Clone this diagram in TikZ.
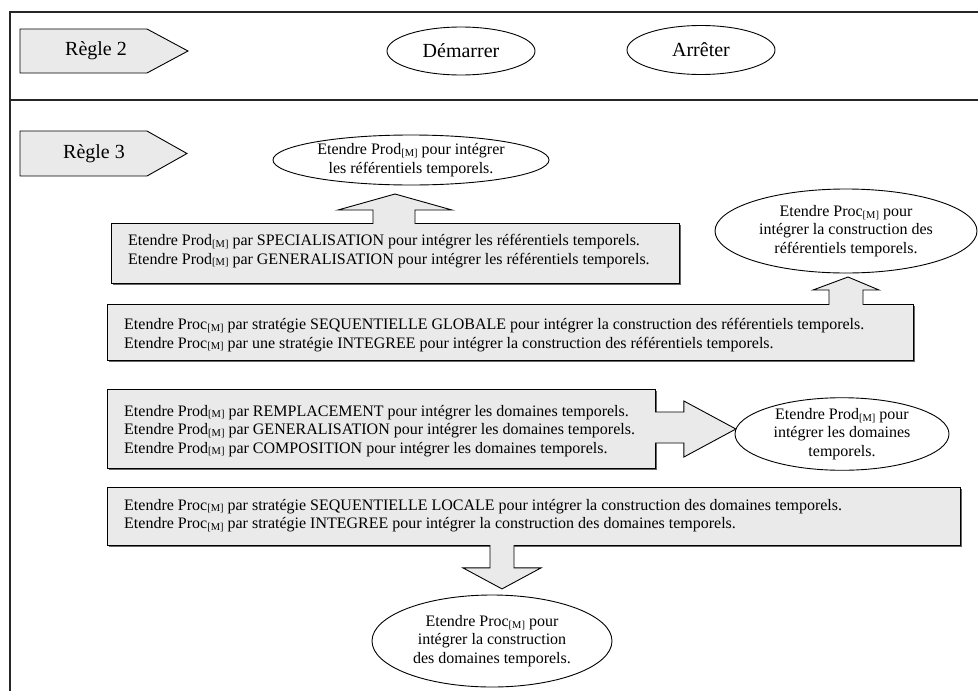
\documentclass[tikz,border=0pt]{standalone}
\usepackage{fontspec}
\setmainfont{Liberation Serif}
\usetikzlibrary{shapes.geometric,shadows,calc}
\definecolor{boxgray}{RGB}{234,234,234}
\newcommand{\Msub}{\raisebox{-1.6pt}{\fontsize{10.5}{10.5}\selectfont[M]}}
\begin{document}
\begin{tikzpicture}[x=1pt,y=-1pt,
  frameline/.style={line width=1.4pt, black!85},
  pent/.style={draw=black, line width=0.9pt, fill=boxgray},
  bigtext/.style={font=\fontsize{20}{24}\selectfont, inner sep=0},
  bigfont/.style={font=\fontsize{20}{24}\selectfont},
  boxshape/.style={draw=black, line width=0.9pt, fill=boxgray, anchor=north west, inner sep=0,
     drop shadow={shadow xshift=1.5pt, shadow yshift=-1.5pt, fill=black, opacity=0.6}},
  boxtext/.style={anchor=west, align=left, inner sep=0, font=\fontsize{16}{18.4}\selectfont},
  oval/.style={ellipse, draw=black, line width=0.9pt, fill=white, inner sep=0, align=center,
     font=\fontsize{16}{18.4}\selectfont},
  blockarrow/.style={draw=black, line width=0.9pt, fill=boxgray, line join=miter}
]
\useasboundingbox (0,0) rectangle (978,691);
% frame
\draw[frameline] (978,12) -- (10,12) -- (10,691);
\draw[frameline] (10,100) -- (978,100);

% Regle 2 lane
\draw[pent] (20,29) -- (147,29) -- (188,51) -- (147,73) -- (20,73) -- cycle;
\node[bigtext] (r2) at (96,51) {Règle 2};
\node[oval, bigfont, minimum width=148pt, minimum height=48pt] (start) at (461,51) {Démarrer};
\node[oval, bigfont, minimum width=148pt, minimum height=49pt] (stop) at (701,50) {Arrêter};

% Regle 3 lane
\draw[pent] (20,131) -- (147,131) -- (187,153.5) -- (147,176) -- (20,176) -- cycle;
\node[bigtext] (r3) at (94,153.5) {Règle 3};

% ellipse 1
\node[oval, minimum width=276pt, minimum height=50pt] (e1) at (411,160)
  {Etendre Prod\Msub{} pour intégrer\\les référentiels temporels.};

% box 1
\node[boxshape, minimum width=568pt, minimum height=60pt] (b1) at (111,223) {};
\node[boxtext] (t1) at ($(b1.west)+(17,-2.5)$)
  {Etendre Prod\Msub{} par SPECIALISATION pour intégrer les référentiels temporels.\\
   Etendre Prod\Msub{} par GENERALISATION pour intégrer les référentiels temporels.};
\draw[blockarrow] ($(b1.north west)+(262,0.8)$) -- ++(0,-13.8) -- ++(-35,0) -- ++(57,-16)
  -- ++(57,16) -- ++(-37,0) -- ++(0,13.8);

% ellipse 2
\node[oval, minimum width=262pt, minimum height=84pt] (e2) at (846,231)
  {Etendre Proc\Msub{} pour\\intégrer la construction des\\référentiels temporels.};

% box 2
\node[boxshape, minimum width=806pt, minimum height=56pt] (b2) at (107,304) {};
\node[boxtext] (t2) at ($(b2.west)+(17,2.5)$)
  {Etendre Proc\Msub{} par stratégie SEQUENTIELLE GLOBALE pour intégrer la construction des référentiels temporels.\\
   Etendre Proc\Msub{} par une stratégie INTEGREE pour intégrer la construction des référentiels temporels.};
\draw[blockarrow] ($(b2.north west)+(722,0.8)$) -- ++(0,-14.8) -- ++(-16,0) -- ++(35,-13)
  -- ++(31,13) -- ++(-16,0) -- ++(0,14.8);

% box 3
\node[boxshape, minimum width=548pt, minimum height=79pt] (b3) at (107,389) {};
\node[boxtext] (t3) at ($(b3.west)+(17,2)$)
  {Etendre Prod\Msub{} par REMPLACEMENT pour intégrer les domaines temporels.\\
   Etendre Prod\Msub{} par GENERALISATION pour intégrer les domaines temporels.\\
   Etendre Prod\Msub{} par COMPOSITION pour intégrer les domaines temporels.};
\draw[blockarrow] ($(b3.north east)+(-0.8,23)$) -- ++(28.8,0) -- ++(0,-11) -- ++(52,28)
  -- ++(-52,28) -- ++(0,-14) -- ++(-28.8,0);

% ellipse 3
\node[oval, minimum width=214pt, minimum height=72pt] (e3) at (842,434)
  {Etendre Prod\Msub{} pour\\intégrer les domaines\\temporels.};

% box 4
\node[boxshape, minimum width=853pt, minimum height=58pt] (b4) at (107,487) {};
\node[boxtext] (t4) at ($(b4.west)+(17,-1)$)
  {Etendre Proc\Msub{} par stratégie SEQUENTIELLE LOCALE pour intégrer la construction des domaines temporels.\\
   Etendre Proc\Msub{} par stratégie INTEGREE pour intégrer la construction des domaines temporels.};
\draw[blockarrow] ($(b4.south west)+(383,-0.8)$) -- ++(0,22.8) -- ++(-27,0) -- ++(39,21)
  -- ++(39,-21) -- ++(-27,0) -- ++(0,-22.8);

% ellipse 4
\node[oval, minimum width=240pt, minimum height=92pt] (e4) at (492,641)
  {Etendre Proc\Msub{} pour\\intégrer la construction\\des domaines temporels.};
\end{tikzpicture}
\end{document}
